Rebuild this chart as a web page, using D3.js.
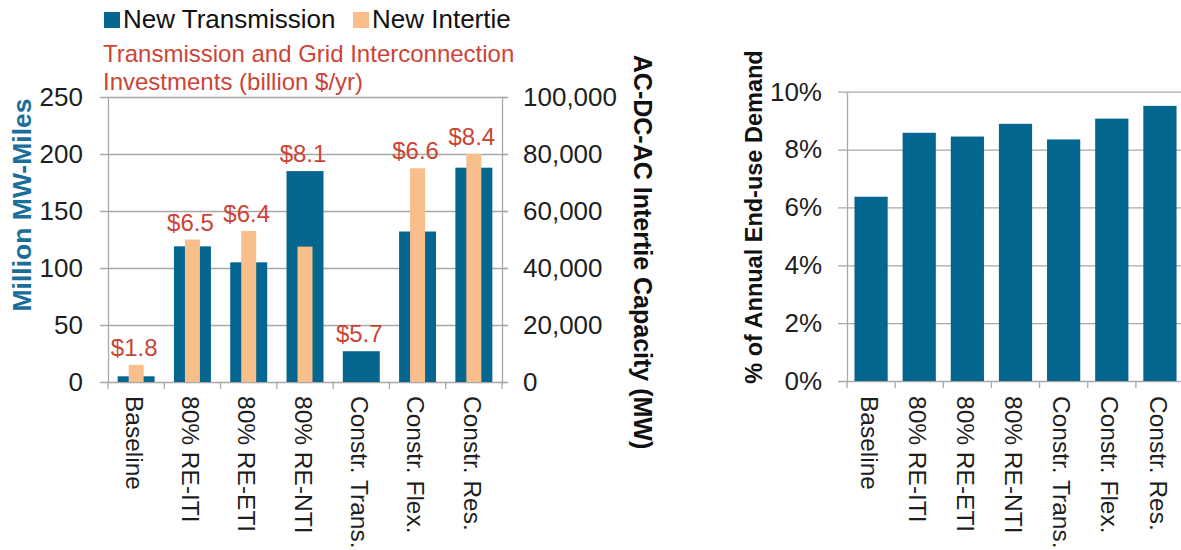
<!DOCTYPE html>
<html>
<head>
<meta charset="utf-8">
<script src="https://cdn.jsdelivr.net/npm/d3@7"></script>
<style>
  html, body { margin: 0; padding: 0; background: #fff; }
  svg { display: block; font-family: "Liberation Sans", Arial, sans-serif; }
</style>
</head>
<body>
<svg id="chart" width="1181" height="550"></svg>
<script>
// ---------- data ----------
const categories = ["Baseline", "80% RE-ITI", "80% RE-ETI", "80% RE-NTI", "Constr. Trans.", "Constr. Flex.", "Constr. Res."];
const newTransmission = [5, 119, 105, 185, 27, 132, 188];          // million MW-miles
const newIntertie = [6000, 50000, 53000, 47500, 0, 75000, 80000];  // MW
const investment = [1.8, 6.5, 6.4, 8.1, 5.7, 6.6, 8.4];            // billion $/yr
const demandShare = [6.37, 8.58, 8.45, 8.89, 8.35, 9.07, 9.51];    // % of annual end-use demand
const leftTicks = [0, 50, 100, 150, 200, 250];
const rightTicks = [0, 20000, 40000, 60000, 80000, 100000];
const pctTicks = [0, 2, 4, 6, 8, 10];
const legendLabels = ["New Transmission", "New Intertie"];

// ---------- styles ----------
const BLUE = "#05668f", PEACH = "#f9be8c", RED = "#cc4436", GRID = "#a8a8a8", TXT = "#1e1e1e";

const svg = d3.select("#chart");

// ================= LEFT CHART =================
const L = { x0: 108, x1: 502, yTop: 97, yBot: 382 };
const xL = d3.scaleBand().domain(categories).range([L.x0, L.x1]).paddingInner(0.343).paddingOuter(0.1715);
const yL = d3.scaleLinear().domain([0, 250]).range([L.yBot, L.yTop]);
const yR = d3.scaleLinear().domain([0, 100000]).range([L.yBot, L.yTop]);

// gridlines + left axis labels
const gL = svg.append("g").attr("transform", `translate(${L.x0},0)`)
  .call(d3.axisLeft(yL).tickValues(leftTicks).tickSizeInner(-(L.x1 - L.x0)).tickSizeOuter(0).tickPadding(25));
gL.select(".domain").attr("stroke", GRID).attr("stroke-width", 1.3);
gL.selectAll(".tick line").attr("x1", -8).attr("x2", L.x1 - L.x0 + 6).attr("stroke", GRID).attr("stroke-width", 1.3);
gL.selectAll(".tick text").attr("font-size", 26).attr("fill", TXT);

// right axis (intertie)
const gR = svg.append("g").attr("transform", `translate(${L.x1},0)`)
  .call(d3.axisRight(yR).tickValues(rightTicks).tickSizeInner(6).tickSizeOuter(0).tickPadding(15).tickFormat(d3.format(",")));
gR.select(".domain").attr("stroke", GRID).attr("stroke-width", 1.3);
gR.selectAll(".tick line").attr("stroke", GRID).attr("stroke-width", 1.3);
gR.selectAll(".tick text").attr("font-size", 26).attr("fill", TXT);

// bottom axis with rotated labels
const gB = svg.append("g").attr("transform", `translate(0,${L.yBot})`)
  .call(d3.axisBottom(xL).tickSize(0));
gB.select(".domain").remove();
gB.selectAll(".tick text")
  .attr("font-size", 24.5).attr("fill", TXT)
  .attr("text-anchor", "start")
  .attr("x", 0).attr("y", 0).attr("dy", "0.42em")
  .attr("transform", "translate(0,14) rotate(90)");
// category separator ticks
d3.range(categories.length + 1).forEach(i => {
  const x = L.x0 + i * xL.step();
  svg.append("line").attr("x1", x).attr("x2", x).attr("y1", L.yBot).attr("y2", L.yBot + 7)
    .attr("stroke", GRID).attr("stroke-width", 1.3);
});

// bars
const rows = categories.map((c, i) => ({ c, t: newTransmission[i], n: newIntertie[i], inv: investment[i] }));
const interW = xL.bandwidth() * 0.405;
svg.append("g").selectAll("rect").data(rows).join("rect")
  .attr("x", d => xL(d.c)).attr("width", xL.bandwidth())
  .attr("y", d => yL(d.t)).attr("height", d => yL(0) - yL(d.t))
  .attr("fill", BLUE);
svg.append("g").selectAll("rect").data(rows.filter(d => d.n > 0)).join("rect")
  .attr("x", d => xL(d.c) + xL.bandwidth() / 2 - interW / 2).attr("width", interW)
  .attr("y", d => yR(d.n)).attr("height", d => yR(0) - yR(d.n))
  .attr("fill", PEACH);
// investment labels
svg.append("g").selectAll("text").data(rows).join("text")
  .attr("x", d => xL(d.c) + xL.bandwidth() / 2 - 2)
  .attr("y", d => Math.min(yL(d.t), yR(d.n)) - 9)
  .attr("text-anchor", "middle").attr("font-size", 24).attr("fill", RED)
  .text(d => "$" + d3.format(".1f")(d.inv));

// axis titles
svg.append("text").attr("transform", "translate(31,205) rotate(-90)")
  .attr("text-anchor", "middle").attr("font-size", 26.5).attr("font-weight", "bold").attr("fill", "#1b6e99")
  .text("Million MW-Miles");
svg.append("text").attr("transform", "translate(634,252) rotate(90)")
  .attr("text-anchor", "middle").attr("font-size", 25).attr("font-weight", "bold").attr("fill", "#111")
  .text("AC-DC-AC Intertie Capacity (MW)");

// legend
const legColors = [BLUE, PEACH];
const legX = [104, 353];
legendLabels.forEach((lab, i) => {
  svg.append("rect").attr("x", legX[i]).attr("y", 12).attr("width", 16).attr("height", 16).attr("fill", legColors[i]);
  svg.append("text").attr("x", legX[i] + 19).attr("y", 28).attr("font-size", 26).attr("fill", "#111").text(lab);
});
// red title
svg.append("text").attr("x", 103).attr("y", 62).attr("font-size", 24).attr("fill", RED)
  .text("Transmission and Grid Interconnection");
svg.append("text").attr("x", 103).attr("y", 90).attr("font-size", 24).attr("fill", RED)
  .text("Investments (billion $/yr)");

// ================= RIGHT CHART =================
const Rt = { x0: 847, x1: 1184, yTop: 91.7, yBot: 381 };
const x2 = d3.scaleBand().domain(categories).range([Rt.x0, Rt.x1]).paddingInner(0.31).paddingOuter(0.155);
const y2 = d3.scaleLinear().domain([0, 10]).range([Rt.yBot, Rt.yTop]);

const g2 = svg.append("g").attr("transform", `translate(${Rt.x0},0)`)
  .call(d3.axisLeft(y2).tickValues(pctTicks).tickSizeInner(-(Rt.x1 - Rt.x0)).tickSizeOuter(0).tickPadding(25)
    .tickFormat(d => d + "%"));
g2.select(".domain").attr("stroke", GRID).attr("stroke-width", 1.3);
g2.selectAll(".tick line").attr("x1", -9).attr("stroke", GRID).attr("stroke-width", 1.3);
g2.selectAll(".tick text").attr("font-size", 26).attr("fill", TXT);

const g2b = svg.append("g").attr("transform", `translate(0,${Rt.yBot})`)
  .call(d3.axisBottom(x2).tickSize(0));
g2b.select(".domain").remove();
g2b.selectAll(".tick text")
  .attr("font-size", 24.5).attr("fill", TXT)
  .attr("text-anchor", "start")
  .attr("x", 0).attr("y", 0).attr("dy", "0.42em")
  .attr("transform", "translate(0,15) rotate(90)");
d3.range(categories.length + 1).forEach(i => {
  const x = Rt.x0 + i * x2.step();
  svg.append("line").attr("x1", x).attr("x2", x).attr("y1", Rt.yBot).attr("y2", Rt.yBot + 7)
    .attr("stroke", GRID).attr("stroke-width", 1.3);
});

svg.append("g").selectAll("rect").data(categories.map((c, i) => ({ c, v: demandShare[i] }))).join("rect")
  .attr("x", d => x2(d.c)).attr("width", x2.bandwidth())
  .attr("y", d => y2(d.v)).attr("height", d => y2(0) - y2(d.v))
  .attr("fill", BLUE);

svg.append("text").attr("transform", "translate(762,217) rotate(-90)")
  .attr("text-anchor", "middle").attr("font-size", 23.5).attr("font-weight", "bold").attr("fill", "#111")
  .text("% of Annual End-use Demand");
</script>
</body>
</html>
